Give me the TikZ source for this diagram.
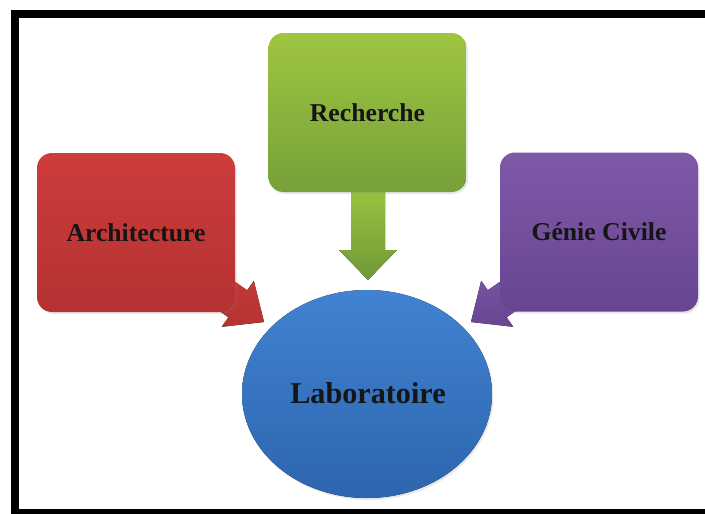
\documentclass[tikz,border=0pt]{standalone}
\usepackage{fontspec}
\setmainfont{Liberation Serif}
\usetikzlibrary{shadows}
\definecolor{redtop}{HTML}{CC3C3B}
\definecolor{redbot}{HTML}{B53232}
\definecolor{greentop}{HTML}{9EC640}
\definecolor{greenbot}{HTML}{76A03A}
\definecolor{purptop}{HTML}{7F59A8}
\definecolor{purpbot}{HTML}{674591}
\definecolor{bluetop}{HTML}{4183D1}
\definecolor{bluebot}{HTML}{2D65AE}
\definecolor{txtdark}{HTML}{151515}
\tikzset{
  boxstyle/.style={rectangle, rounded corners=15pt, minimum width=198pt,
    minimum height=159pt, inner sep=0pt, text=txtdark,
    font=\bfseries\fontsize{25.7}{30}\selectfont,
    drop shadow={opacity=0.18, shadow xshift=1.5pt, shadow yshift=-2pt}},
  blockarrow/.style={draw=none}
}
\begin{document}
\begin{tikzpicture}[x=1pt,y=-1pt]
\useasboundingbox (0,0) rectangle (705,514);
% frame
\fill[black] (11,10) rectangle (705,514);
\fill[white] (19,18) rectangle (705,509);
% arrows (behind boxes)
\fill[blockarrow, top color=redtop, bottom color=redbot]
  (198,256) -- (247.2,290.3) -- (253.8,280.8) -- (264,322)
  -- (221.8,326.8) -- (228.4,317.3) -- (179,283) -- cycle;
\fill[blockarrow, top color=purptop, bottom color=purpbot]
  (537,256) -- (487.8,290.3) -- (481.2,280.8) -- (471,322)
  -- (513.2,326.8) -- (506.6,317.3) -- (556,283) -- cycle;
\fill[blockarrow, top color=greentop, bottom color=greenbot!95!black]
  (351,180) -- (385,180) -- (385,250) -- (397,250) -- (368,280)
  -- (339,250) -- (351,250) -- cycle;
% boxes
\node[boxstyle, top color=redtop, bottom color=redbot] (arch) at (136,232.5) {Architecture};
\node[boxstyle, top color=greentop, bottom color=greenbot] (rech) at (367.5,112.5) {Recherche};
\node[boxstyle, top color=purptop, bottom color=purpbot] (genie) at (599,232) {Génie Civile};
% ellipse
\fill[top color=bluetop, bottom color=bluebot, drop shadow={opacity=0.18, shadow xshift=1.5pt, shadow yshift=-2pt}]
  (367,394) ellipse [x radius=125, y radius=104];
\node[text=txtdark, font=\bfseries\fontsize{30.2}{34}\selectfont] (labo) at (368,393) {Laboratoire};
\end{tikzpicture}
\end{document}
